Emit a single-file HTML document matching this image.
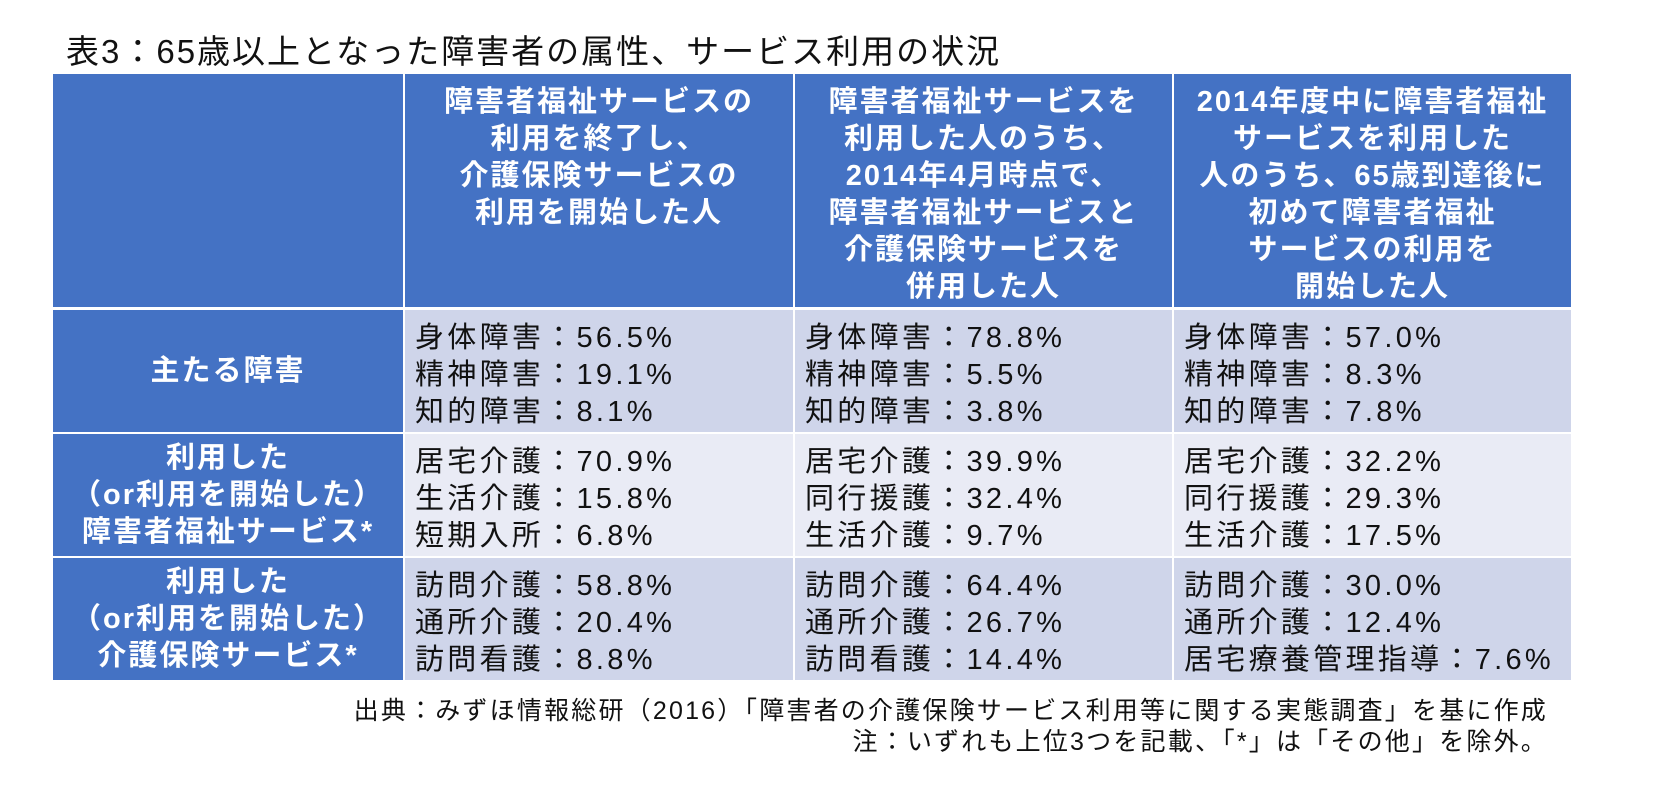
<!DOCTYPE html>
<html><head><meta charset="utf-8">
<style>
html,body{margin:0;padding:0;background:#fff;}
body{width:1660px;height:787px;position:relative;overflow:hidden;font-family:"Liberation Sans","Noto Sans CJK JP",sans-serif;}
.title{position:absolute;left:66px;top:25px;font-size:33px;color:#111;letter-spacing:2px;}
.c{position:absolute;box-sizing:border-box;}
.hd{background:#4472C4;color:#fff;font-weight:bold;font-size:29px;line-height:37px;text-align:center;padding-top:10px;letter-spacing:2px;white-space:nowrap;}
.lb{background:#4472C4;color:#fff;font-weight:bold;font-size:29px;line-height:37px;text-align:center;display:flex;align-items:center;justify-content:center;letter-spacing:2px;white-space:nowrap;}
.bd{font-size:29px;line-height:37px;color:#111;padding:10px 0 0 10px;letter-spacing:3.3px;white-space:nowrap;}
.r1{background:#CFD5EA;}.r2{background:#E9EBF5;}
.note{position:absolute;right:112px;font-size:25px;color:#111;text-align:right;white-space:nowrap;letter-spacing:2.2px;}
</style></head><body>
<div class="title">表3：65歳以上となった障害者の属性、サービス利用の状況</div>

<div class="c hd" style="left:53px;top:74px;width:350px;height:233px;"></div>
<div class="c hd" style="left:405px;top:74px;width:388px;height:233px;">障害者福祉サービスの<br>利用を終了し、<br>介護保険サービスの<br>利用を開始した人</div>
<div class="c hd" style="left:795px;top:74px;width:377px;height:233px;">障害者福祉サービスを<br>利用した人のうち、<br>2014年4月時点で、<br>障害者福祉サービスと<br>介護保険サービスを<br>併用した人</div>
<div class="c hd" style="left:1174px;top:74px;width:397px;height:233px;">2014年度中に障害者福祉<br>サービスを利用した<br>人のうち、65歳到達後に<br>初めて障害者福祉<br>サービスの利用を<br>開始した人</div>

<div class="c lb" style="left:53px;top:310px;width:350px;height:122px;">主たる障害</div>
<div class="c bd r1" style="left:405px;top:310px;width:388px;height:122px;">身体障害：56.5%<br>精神障害：19.1%<br>知的障害：8.1%</div>
<div class="c bd r1" style="left:795px;top:310px;width:377px;height:122px;">身体障害：78.8%<br>精神障害：5.5%<br>知的障害：3.8%</div>
<div class="c bd r1" style="left:1174px;top:310px;width:397px;height:122px;">身体障害：57.0%<br>精神障害：8.3%<br>知的障害：7.8%</div>

<div class="c lb" style="left:53px;top:434px;width:350px;height:122px;">利用した<br>（or利用を開始した）<br>障害者福祉サービス*</div>
<div class="c bd r2" style="left:405px;top:434px;width:388px;height:122px;">居宅介護：70.9%<br>生活介護：15.8%<br>短期入所：6.8%</div>
<div class="c bd r2" style="left:795px;top:434px;width:377px;height:122px;">居宅介護：39.9%<br>同行援護：32.4%<br>生活介護：9.7%</div>
<div class="c bd r2" style="left:1174px;top:434px;width:397px;height:122px;">居宅介護：32.2%<br>同行援護：29.3%<br>生活介護：17.5%</div>

<div class="c lb" style="left:53px;top:558px;width:350px;height:122px;">利用した<br>（or利用を開始した）<br>介護保険サービス*</div>
<div class="c bd r1" style="left:405px;top:558px;width:388px;height:122px;">訪問介護：58.8%<br>通所介護：20.4%<br>訪問看護：8.8%</div>
<div class="c bd r1" style="left:795px;top:558px;width:377px;height:122px;">訪問介護：64.4%<br>通所介護：26.7%<br>訪問看護：14.4%</div>
<div class="c bd r1" style="left:1174px;top:558px;width:397px;height:122px;">訪問介護：30.0%<br>通所介護：12.4%<br>居宅療養管理指導：7.6%</div>

<div class="note" style="top:691px;">出典：みずほ情報総研（2016）「障害者の介護保険サービス利用等に関する実態調査」を基に作成</div>
<div class="note" style="top:722px;">注：いずれも上位3つを記載、「*」は「その他」を除外。</div>
</body></html>
